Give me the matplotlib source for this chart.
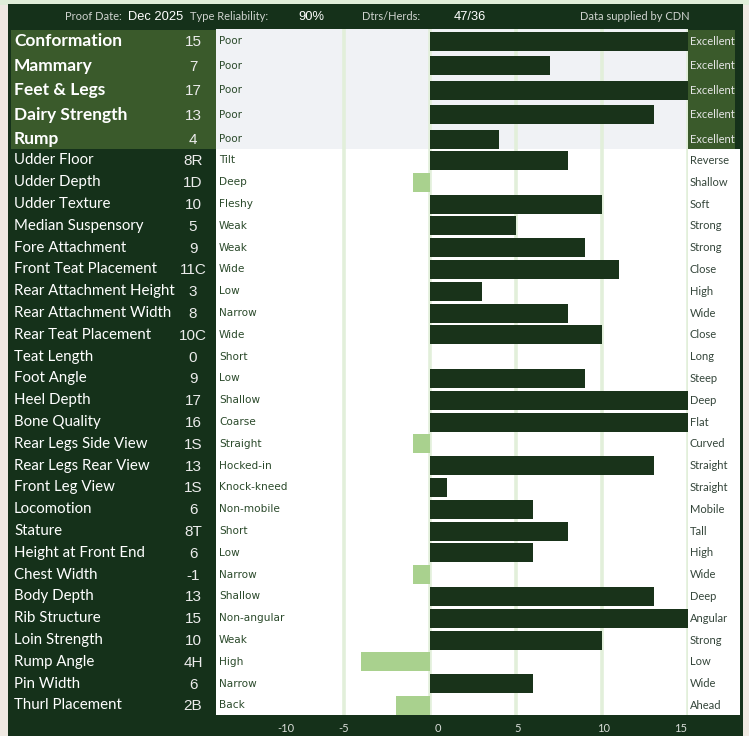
import numpy as np
import matplotlib
matplotlib.use("Agg")
import matplotlib.pyplot as plt
from matplotlib.patches import Rectangle
from matplotlib.transforms import blended_transform_factory

# --- data ---------------------------------------------------------------
summary_traits = ["Conformation", "Mammary", "Feet & Legs", "Dairy Strength", "Rump"]
summary_values = [15, 7, 17, 13, 4]
summary_labels = ["15", "7", "17", "13", "4"]

traits = ["Udder Floor", "Udder Depth", "Udder Texture", "Median Suspensory",
          "Fore Attachment", "Front Teat Placement", "Rear Attachment Height",
          "Rear Attachment Width", "Rear Teat Placement", "Teat Length",
          "Foot Angle", "Heel Depth", "Bone Quality", "Rear Legs Side View",
          "Rear Legs Rear View", "Front Leg View", "Locomotion", "Stature",
          "Height at Front End", "Chest Width", "Body Depth", "Rib Structure",
          "Loin Strength", "Rump Angle", "Pin Width", "Thurl Placement"]
values = [8, -1, 10, 5, 9, 11, 3, 8, 10, 0, 9, 17, 16, -1, 13, 1, 6, 8, 6, -1,
          13, 15, 10, -4, 6, -2]
value_labels = ["8R", "1D", "10", "5", "9", "11C", "3", "8", "10C", "0", "9",
                "17", "16", "1S", "13", "1S", "6", "8T", "6", "-1", "13", "15",
                "10", "4H", "6", "2B"]
low_ends = ["Tilt", "Deep", "Fleshy", "Weak", "Weak", "Wide", "Low", "Narrow",
            "Wide", "Short", "Low", "Shallow", "Coarse", "Straight", "Hocked-in",
            "Knock-kneed", "Non-mobile", "Short", "Low", "Narrow", "Shallow",
            "Non-angular", "Weak", "High", "Narrow", "Back"]
high_ends = ["Reverse", "Shallow", "Soft", "Strong", "Strong", "Close", "High",
             "Wide", "Close", "Long", "Steep", "Deep", "Flat", "Curved",
             "Straight", "Straight", "Mobile", "Tall", "High", "Wide", "Deep",
             "Angular", "Strong", "Low", "Wide", "Ahead"]

header_keys = ["Proof Date:", "Type Reliability:", "Dtrs/Herds:"]
header_vals = ["Dec 2025", "90%", "47/36"]
ticks = [-10, -5, 0, 5, 10, 15]

# --- style --------------------------------------------------------------
PANEL = "#15311a"
BAR = "#19331a"
NEG = "#a9d18e"
SUMMARY_BG = "#3a5a2b"
LIGHT_BG = "#f0f2f5"
GRID = "#e2efda"
MID_TXT = "#2b4a2b"
RIGHT_TXT = "#34453a"
OUTER = "#efe9e2"

W, H = 749, 736
fig = plt.figure(figsize=(W / 100, H / 100), dpi=100)
fig.patch.set_facecolor(OUTER)


def fx(px):
    return px / W


def fy(py):
    return 1 - py / H


def box(x0, y0, x1, y1, color, z=-2):
    fig.patches.append(Rectangle((fx(x0), fy(y1)), fx(x1) - fx(x0), fy(y0) - fy(y1),
                                 transform=fig.transFigure, color=color, zorder=z,
                                 lw=0))


# row layout (vertical units = pixels)
top0, big_h = 29.0, 24.5
split = 149.0
small_top, small_h = 149.5, 21.8
y_big = [top0 + big_h * (i + 0.5) for i in range(len(summary_traits))]
y_small = [small_top + small_h * (i + 0.5) for i in range(len(traits))]
bottom = 715

# frame pieces (behind the axes)
box(0, 0, W, 5, "#e0eed9", -3)
box(8, 4, 743, H, PANEL, -3)
box(11, 30, 216, split, SUMMARY_BG)
box(688, 30, 735, split, SUMMARY_BG)
box(688, split, 740, bottom, "white")

xmin, xmax = -12.44, 15
ax = fig.add_axes([fx(216), fy(bottom), fx(688) - fx(216), fy(top0) - fy(bottom)])
ax.set_zorder(1)
ax.set_xlim(xmin, xmax)
ax.set_ylim(bottom, top0)
ax.axis("off")
ax.add_patch(Rectangle((xmin, split), xmax - xmin, bottom - split,
                       color="white", lw=0, zorder=0))
ax.add_patch(Rectangle((xmin, top0), xmax - xmin, split - top0,
                       color=LIGHT_BG, lw=0, zorder=0))
for t in [-5, 0, 5, 10, 15]:
    ax.axvline(t, color=GRID, lw=2.6, zorder=1)

all_y = y_big + y_small
all_vals = summary_values + values
colors = [BAR if v >= 0 else NEG for v in all_vals]
ax.barh(all_y, all_vals, height=19, color=colors, zorder=2)

tr = blended_transform_factory(fig.transFigure, ax.transData)

for y, name, lab in zip(y_big, summary_traits, summary_labels):
    ax.text(fx(14), y, name, transform=tr, family="Lato", weight="bold",
            fontsize=12.5, color="white", va="center", ha="left")
    ax.text(fx(193), y + 1, lab, transform=tr, family="Liberation Sans",
            fontsize=11, color="#ececec", va="center", ha="center")
    ax.text(fx(219), y, "Poor", transform=tr, family="DejaVu Sans",
            fontsize=7.5, color=MID_TXT, va="center", ha="left", zorder=3)
    ax.text(fx(690), y, "Excellent", transform=tr, family="Lato",
            fontsize=8, color="#e6e6e6", va="center", ha="left")

for y, name, lab, lo, hi in zip(y_small, traits, value_labels, low_ends, high_ends):
    ax.text(fx(14), y, name, transform=tr, family="Lato",
            fontsize=10.8, color="white", va="center", ha="left")
    ax.text(fx(193), y + 1, lab, transform=tr, family="Liberation Sans",
            fontsize=11, color="#ececec", va="center", ha="center")
    ax.text(fx(219), y, lo, transform=tr, family="DejaVu Sans",
            fontsize=7.6, color=MID_TXT, va="center", ha="left", zorder=3)
    ax.text(fx(690), y, hi, transform=tr, family="Lato",
            fontsize=8, color=RIGHT_TXT, va="center", ha="left")

# header
hy = fy(16.5)
key_x = [122, 268, 420]
val_x = [155.5, 311, 470]
for k, v, kx, vx in zip(header_keys, header_vals, key_x, val_x):
    fig.text(fx(kx), hy, k, family="Lato", fontsize=8, color="#cfd3cf",
             ha="right", va="center")
    fig.text(fx(vx), hy, v, family="Liberation Sans", fontsize=9.3,
             color="white", ha="center", va="center")
fig.text(fx(635), hy, "Data supplied by CDN", family="Lato", fontsize=8,
         color="#cfd3cf", ha="center", va="center")

# x tick labels in the bottom band
tick_shift = {-10: 1.6, -5: -0.05, 0: 0.45, 5: 0.1, 10: 0.1, 15: -0.45}
for t in ticks:
    ax.text(t + tick_shift[t], 728, str(t), family="Lato", fontsize=8,
            color="#d9ddd9", ha="center", va="center", clip_on=False)

fig.savefig("out.png", dpi=100, facecolor=fig.get_facecolor())
